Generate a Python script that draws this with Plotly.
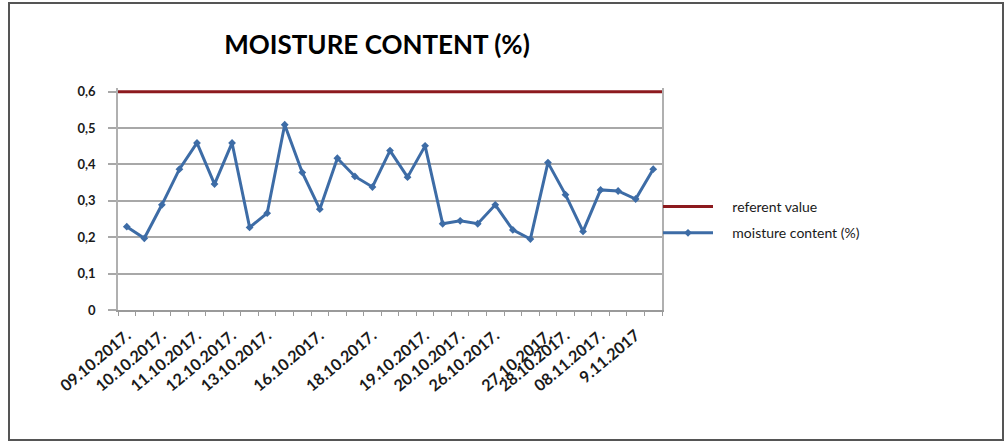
import plotly.graph_objects as go

# ---- data ----
tick_labels = ["09.10.2017.", "10.10.2017.", "11.10.2017.", "12.10.2017.", "13.10.2017.",
               "16.10.2017.", "18.10.2017.", "19.10.2017.", "20.10.2017.", "26.10.2017.",
               "27.10.2017.", "28.10.2017.", "08.11.2017.", "9.11.2017"]
label_positions = [0, 2, 4, 6, 8, 11, 14, 17, 19, 21, 24, 25, 27, 29]
moisture = [0.229, 0.197, 0.289, 0.387, 0.459, 0.346, 0.459, 0.227, 0.266, 0.509,
            0.378, 0.277, 0.417, 0.367, 0.338, 0.438, 0.365, 0.451, 0.237, 0.245,
            0.237, 0.289, 0.220, 0.195, 0.405, 0.317, 0.216, 0.330, 0.327, 0.305, 0.387]
referent_value = 0.6
y_tick_vals = [0, 0.1, 0.2, 0.3, 0.4, 0.5, 0.6]
y_tick_text = ["0", "0,1", "0,2", "0,3", "0,4", "0,5", "0,6"]
series_names = ["referent value", "moisture content (%)"]

n = len(moisture)
xs = list(range(n))
x_range = [-0.5, n - 0.5]
y_range = [0, 0.61]

# layout geometry (pixels)
W, Hh = 1006, 443
ml, mr, mt, mb = 118, 344, 88, 133
pw = W - ml - mr
ph = Hh - mt - mb

def px_x(p):
    return (p - ml) / pw

def px_y(p):
    return (Hh - mb - p) / ph

blue = "#3d6ca6"
red = "#8c1a1e"
grid = "#a8a8a8"
font_family = "Lato"
pad = "\u00a0" * 4

fig = go.Figure()
fig.add_trace(go.Scatter(
    x=x_range, y=[referent_value, referent_value], mode="lines",
    line=dict(color=red, width=3), name=pad + series_names[0],
    legendgroup="a", cliponaxis=False, hoverinfo="skip"))
fig.add_trace(go.Scatter(
    x=xs, y=moisture, mode="lines+markers",
    line=dict(color=blue, width=3),
    marker=dict(symbol="diamond", size=6, color=blue),
    name=pad + series_names[1], legendgroup="b"))

fig.update_layout(
    width=W, height=Hh,
    margin=dict(l=ml, r=mr, t=mt, b=mb, autoexpand=False),
    paper_bgcolor="white", plot_bgcolor="white",
    font=dict(family=font_family, color="#1a1a1a"),
    title=dict(text="<b>MOISTURE CONTENT (%)</b>", x=377 / W, xanchor="center",
               y=1 - 45 / Hh, yanchor="middle", xref="container", yref="container",
               font=dict(size=26, family=font_family, color="#000")),
    showlegend=True,
    legend=dict(x=px_x(658), xanchor="left", y=px_y(191), yanchor="top",
                traceorder="grouped", tracegroupgap=5, itemwidth=50,
                font=dict(size=14, family=font_family, color="#1a1a1a"),
                bgcolor="rgba(0,0,0,0)"),
    xaxis=dict(range=x_range, tickmode="array", tickvals=label_positions,
               ticktext=tick_labels, tickangle=-40, ticks="", showgrid=False,
               zeroline=False, showline=True, linecolor="#9a9a9a", linewidth=2,
               ticklabelstandoff=8,
               tickfont=dict(size=16, family=font_family, color="#1a1a1a", weight="bold"),
               minor=dict(tickmode="array", tickvals=[i - 0.5 for i in range(n + 1)],
                          ticks="outside", ticklen=4, tickcolor="#9a9a9a", tickwidth=1,
                          showgrid=False),
               automargin=False),
    yaxis=dict(range=y_range, tickmode="array", tickvals=y_tick_vals, ticktext=y_tick_text,
               ticks="outside", ticklen=8, tickcolor=grid, tickwidth=1.5,
               showgrid=True, gridcolor=grid, gridwidth=1.5, zeroline=False,
               showline=True, linecolor="#b0b0b0", linewidth=1.5, mirror=True,
               ticklabelstandoff=10,
               tickfont=dict(size=13, family=font_family, color="#1a1a1a", weight="bold"),
               automargin=False),
)

fig.add_shape(type="rect", xref="paper", yref="paper",
              x0=px_x(9), x1=px_x(1003), y0=px_y(440), y1=px_y(3),
              line=dict(color="#555555", width=2), fillcolor="rgba(0,0,0,0)", layer="below")

fig.write_html("out.html")
